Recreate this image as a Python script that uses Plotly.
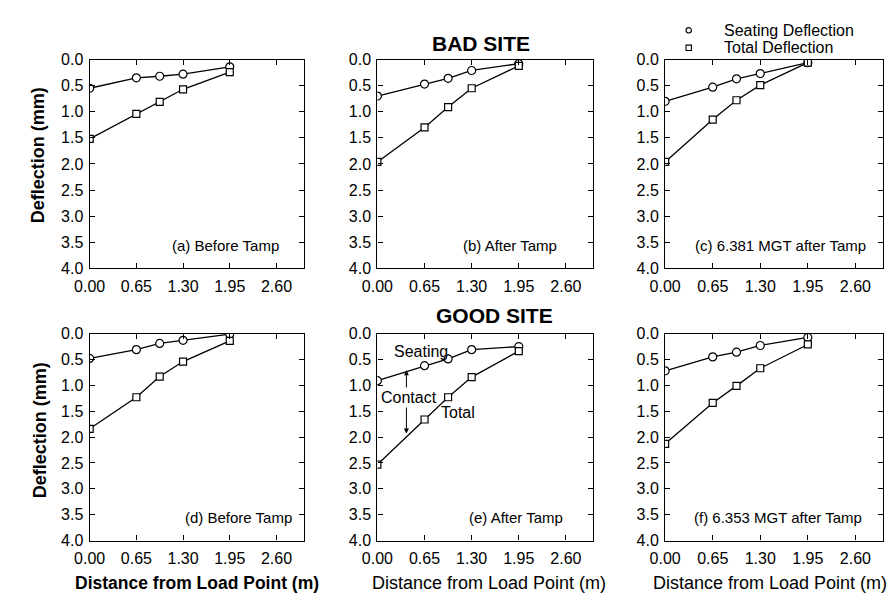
import plotly.graph_objects as go

W, H = 893, 605

# ---------------- data ----------------
distance = [0.0, 0.65, 0.975, 1.30, 1.95]

seat_a = [0.55, 0.35, 0.32, 0.28, 0.14]
total_a = [1.52, 1.04, 0.81, 0.57, 0.24]
seat_b = [0.70, 0.47, 0.36, 0.21, 0.08]
total_b = [1.96, 1.30, 0.91, 0.55, 0.12]
seat_c = [0.80, 0.53, 0.37, 0.27, 0.06]
total_c = [1.96, 1.15, 0.78, 0.49, 0.06]
seat_d = [0.48, 0.31, 0.19, 0.13, 0.01]
total_d = [1.84, 1.23, 0.83, 0.54, 0.14]
seat_e = [0.91, 0.62, 0.49, 0.31, 0.25]
total_e = [2.53, 1.66, 1.23, 0.84, 0.34]
seat_f = [0.72, 0.45, 0.36, 0.23, 0.075]
total_f = [2.13, 1.34, 1.01, 0.67, 0.21]

panel_labels = ["(a) Before Tamp", "(b) After Tamp", "(c) 6.381 MGT after Tamp",
                "(d) Before Tamp", "(e) After Tamp", "(f) 6.353 MGT after Tamp"]
x_ticks = [0.00, 0.65, 1.30, 1.95, 2.60]
y_ticks = [0.0, 0.5, 1.0, 1.5, 2.0, 2.5, 3.0, 3.5, 4.0]

seating = [seat_a, seat_b, seat_c, seat_d, seat_e, seat_f]
total = [total_a, total_b, total_c, total_d, total_e, total_f]

# ---------------- layout geometry (pixels) ----------------
FONT = "Liberation Sans, Arial, Helvetica, sans-serif"
col_px = [(75, 293), (368, 588), (661, 883)]
row_px = [(53, 268), (335, 548)]
label_right = [0.894, 0.841, 0.932, 0.954, 0.869, 0.91]


def px_x(p):
    return p / W


def px_y(p):
    return 1 - p / H


fig = go.Figure()
layout = dict(
    width=W, height=H, margin=dict(l=0, r=0, t=0, b=0),
    paper_bgcolor="white", plot_bgcolor="white", showlegend=False,
    font=dict(family=FONT, color="black"),
)

annotations = []
shapes = []

for i in range(6):
    r, c = divmod(i, 3)
    n = "" if i == 0 else str(i + 1)
    xa, ya = "x" + n, "y" + n
    fig.add_trace(go.Scatter(
        x=distance, y=seating[i], xaxis=xa, yaxis=ya, mode="lines+markers",
        line=dict(color="black", width=1.3),
        marker=dict(symbol="circle", size=8, color="white",
                    line=dict(color="black", width=1.2)),
        name="Seating Deflection"))
    fig.add_trace(go.Scatter(
        x=distance, y=total[i], xaxis=xa, yaxis=ya, mode="lines+markers",
        line=dict(color="black", width=1.3),
        marker=dict(symbol="square", size=7, color="white",
                    line=dict(color="black", width=1.2)),
        name="Total Deflection"))
    axcommon = dict(showline=True, linecolor="black", linewidth=1.3, mirror="ticks",
                    ticks="inside", ticklen=5, tickcolor="black", tickwidth=1,
                    showgrid=False, zeroline=False,
                    tickfont=dict(size=16, family=FONT, color="black"))
    layout["xaxis" + n] = dict(
        domain=[px_x(col_px[c][0]), px_x(col_px[c][1])], anchor=ya,
        range=[0, 2.98], tickvals=x_ticks, tickformat=".2f",
        ticklabelstandoff=3, **axcommon)
    layout["yaxis" + n] = dict(
        domain=[px_y(row_px[r][1]), px_y(row_px[r][0])], anchor=xa,
        range=[4, 0], tickvals=y_ticks, tickformat=".1f",
        ticklabelstandoff=2, **axcommon)
    annotations.append(dict(
        text=panel_labels[i], xref=xa + " domain", yref=ya + " domain",
        x=label_right[i], y=0.11, xanchor="right", yanchor="middle",
        showarrow=False, font=dict(size=15, family=FONT, color="black")))

# axis titles
for yc, xc in [(152, 22), (435, 24)]:
    annotations.append(dict(text="<b>Deflection (mm)</b>", xref="paper", yref="paper",
                            x=px_x(xc), y=px_y(yc), textangle=-90, showarrow=False,
                            xanchor="center", yanchor="middle",
                            font=dict(size=18, family=FONT, color="black")))
for xc, bold in [(184, True), (482, False), (768, False)]:
    t = "Distance from Load Point (m)"
    annotations.append(dict(text=f"<b>{t}</b>" if bold else t, xref="paper", yref="paper",
                            x=px_x(xc), y=px_y(592), showarrow=False,
                            xanchor="center", yanchor="middle",
                            font=dict(size=18 if not bold else 17.5, family=FONT, color="black")))

# site titles
annotations.append(dict(text="<b>BAD SITE</b>", xref="paper", yref="paper",
                        x=px_x(473), y=px_y(23), showarrow=False,
                        font=dict(size=21, family=FONT, color="black")))
annotations.append(dict(text="<b>GOOD SITE</b>", xref="paper", yref="paper",
                        x=px_x(487), y=px_y(316), showarrow=False,
                        font=dict(size=21, family=FONT, color="black")))

# legend (text + symbol shapes)
for txt, yc, sym in [("Seating Deflection", 23, "circle"), ("Total Deflection", 41, "rect")]:
    annotations.append(dict(text=txt, xref="paper", yref="paper", x=px_x(719), y=px_y(yc),
                            xanchor="left", yanchor="middle", showarrow=False,
                            font=dict(size=16, family=FONT, color="black")))
    shapes.append(dict(type=sym, xref="paper", yref="paper", xsizemode="pixel",
                       ysizemode="pixel", xanchor=px_x(685), yanchor=px_y(yc),
                       x0=-2.7, x1=2.7, y0=-2.7, y1=2.7,
                       line=dict(color="black", width=1.1), fillcolor="white"))

# annotations inside panel (e)
annotations.append(dict(text="Seating", xref="x5", yref="y5", x=0.60, y=0.34,
                        showarrow=False, font=dict(size=16, family=FONT, color="black")))
annotations.append(dict(text="Total", xref="x5", yref="y5", x=1.11, y=1.52,
                        showarrow=False, font=dict(size=16, family=FONT, color="black")))
annotations.append(dict(text="Contact", xref="x5", yref="y5", x=0.44, y=1.24,
                        showarrow=False, font=dict(size=16, family=FONT, color="black")))
annotations.append(dict(text="", xref="x5", yref="y5", x=0.40, y=0.71,
                        axref="x5", ayref="y5", ax=0.40, ay=1.07, showarrow=True,
                        arrowhead=2, arrowsize=1, arrowwidth=1, arrowcolor="black"))
annotations.append(dict(text="", xref="x5", yref="y5", x=0.40, y=1.93,
                        axref="x5", ayref="y5", ax=0.40, ay=1.40, showarrow=True,
                        arrowhead=2, arrowsize=1, arrowwidth=1, arrowcolor="black"))

layout["annotations"] = annotations
layout["shapes"] = shapes
fig.update_layout(**layout)
fig.write_html("out.html")
